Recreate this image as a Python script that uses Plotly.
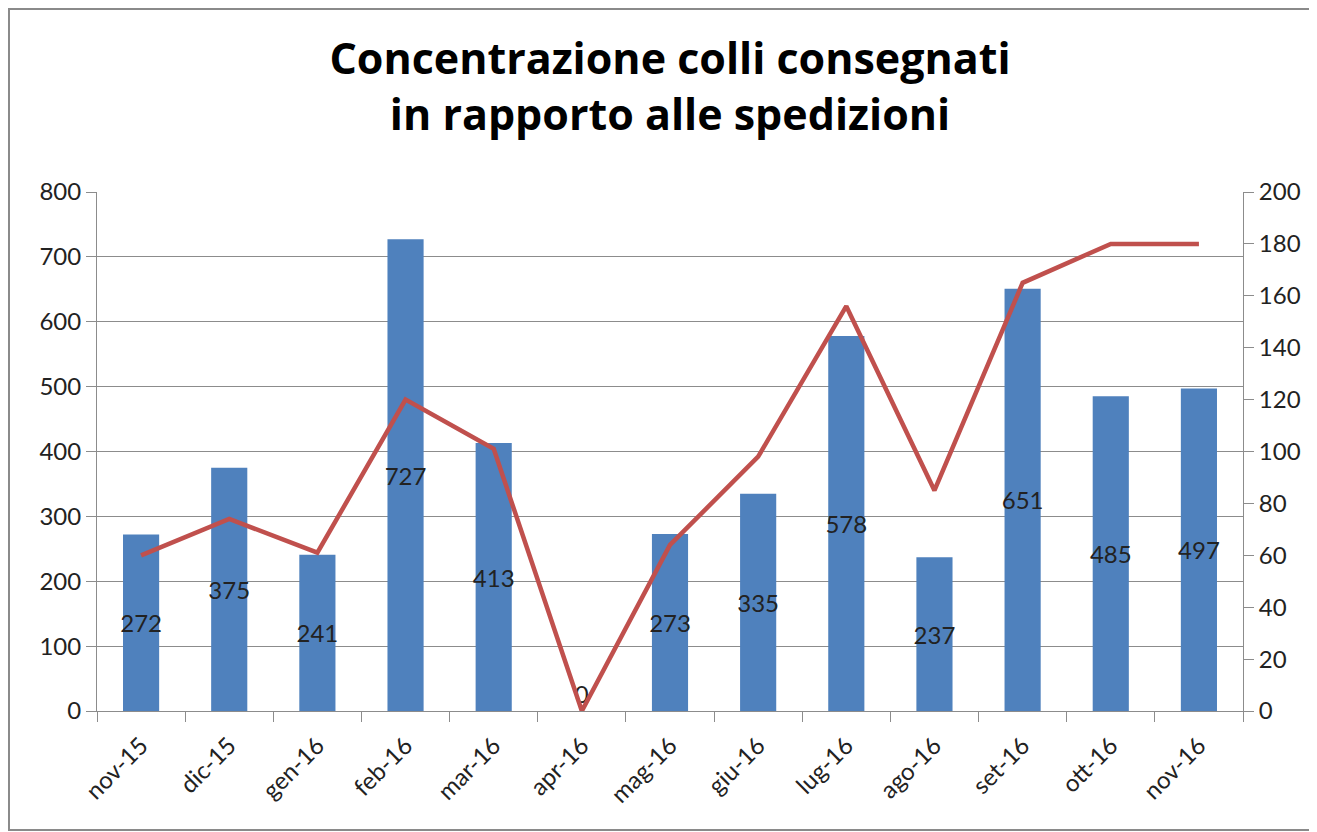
import plotly.graph_objects as go

months = ["nov-15", "dic-15", "gen-16", "feb-16", "mar-16", "apr-16", "mag-16",
          "giu-16", "lug-16", "ago-16", "set-16", "ott-16", "nov-16"]
colli = [272, 375, 241, 727, 413, 0, 273, 335, 578, 237, 651, 485, 497]
spedizioni = [60, 74, 61, 120, 101, 0, 64, 98, 156, 85, 165, 180, 180]

FONT = "Lato"
positions = ["inside" if v > 0 else "outside" for v in colli]

W, H = 1309, 824
fig = go.Figure()
fig.add_trace(go.Bar(
    x=months, y=colli, marker=dict(color="#4F81BD", line=dict(width=0)),
    text=[str(v) for v in colli], textposition=positions, textangle=0,
    insidetextanchor="middle", constraintext="none",
    textfont=dict(family=FONT, size=24, color="#222222"),
    cliponaxis=False, showlegend=False, name="colli"))
fig.add_trace(go.Scatter(
    x=months, y=spedizioni, yaxis="y2", mode="lines",
    line=dict(color="#C0504D", width=4.5), showlegend=False, name="spedizioni"))

tickfont = dict(family=FONT, size=24, color="#222222")
fig.update_layout(
    width=W, height=H,
    margin=dict(l=89, r=74, t=184, b=121),
    paper_bgcolor="white", plot_bgcolor="white",
    bargap=0.59,
    title=dict(text="<b>Concentrazione colli consegnati<br>in rapporto alle spedizioni</b>",
               x=0.5, xref="paper", xanchor="center",
               y=1 - 66 / H, yref="container", yanchor="top",
               font=dict(family="Open Sans", size=43, color="#000000")),
    xaxis=dict(type="category", tickangle=-45, tickfont=tickfont,
               showline=True, linecolor="#8c8c8c", linewidth=1,
               ticks="outside", tickson="boundaries", ticklen=10, tickcolor="#8c8c8c",
               ticklabelstandoff=10, showgrid=False),
    yaxis=dict(range=[0, 800], dtick=100, tickfont=tickfont,
               showline=True, linecolor="#8c8c8c", linewidth=1,
               ticks="outside", ticklen=10, tickcolor="#8c8c8c",
               showgrid=True, gridcolor="#8c8c8c", gridwidth=1, zeroline=False),
    yaxis2=dict(range=[0, 200], dtick=20, tickfont=tickfont, overlaying="y", side="right",
                showline=True, linecolor="#8c8c8c", linewidth=1,
                ticks="outside", ticklen=10, tickcolor="#8c8c8c",
                showgrid=False, zeroline=False),
    shapes=[dict(type="rect", xref="paper", yref="paper",
                 x0=-0.0768, x1=1.0611, y0=-0.2293, y1=1.3526,
                 line=dict(color="#8a8a8a", width=2), layer="below")],
)

fig.write_html("out.html")
